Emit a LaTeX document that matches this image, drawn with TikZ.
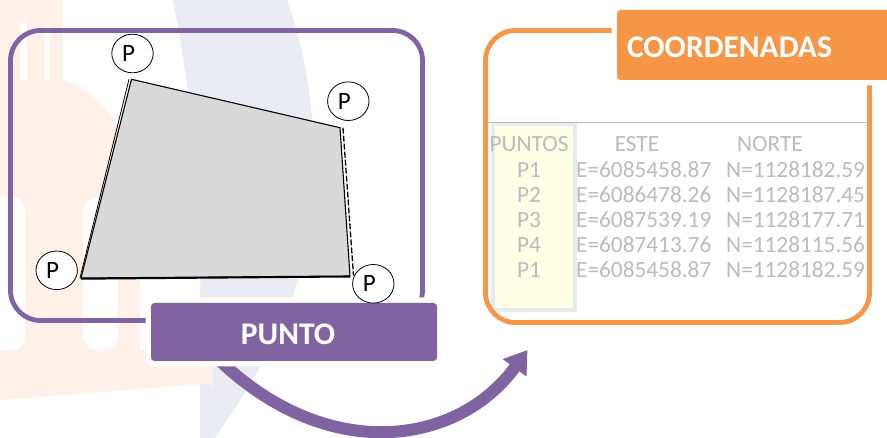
\documentclass[tikz,border=0pt]{standalone}
\usepackage{fontspec}
\setmainfont{Carlito}
\usetikzlibrary{arrows.meta,shapes.geometric}
\definecolor{purp}{HTML}{8064A2}
\definecolor{orng}{HTML}{F79646}
\definecolor{wmpeach}{HTML}{FEF1E9}
\definecolor{wmlav}{HTML}{EBEBF3}
\definecolor{quadgray}{HTML}{D9D9D9}
\definecolor{tabgray}{HTML}{BBBBBB}
\definecolor{colyellow}{HTML}{FFFFE5}
\definecolor{colborder}{HTML}{E6EAF1}
\begin{document}
\begin{tikzpicture}[x=1pt,y=-1pt,
  frame/.style={line width=4.8pt,rounded corners=30pt},
  titlebox/.style={preaction={draw=white,line width=11pt},rounded corners=3.5pt,inner sep=0pt,
     text=white,font=\fontsize{31.5}{36}\selectfont\bfseries,text height=26pt,text depth=0pt},
  pcirc/.style={ellipse,draw=black,line width=0.8pt,fill=white,minimum width=41.4pt,
     minimum height=38.6pt,inner sep=0pt,font=\fontsize{25}{30}\selectfont},
  tabtxt/.style={text=tabgray,inner sep=0pt,font=\fontsize{23.3}{28}\selectfont},
  quadline/.style={draw=black,line width=1.1pt,line join=miter},
  bigarrow/.style={draw=purp,line width=12pt,-{Triangle[width=28pt,length=22pt]}}]
\useasboundingbox (0,0) rectangle (887,438);
\clip (0,0) rectangle (887,438);
% watermark
\fill[wmlav] (173,0) .. controls (192,100) and (203,200) .. (200,300) -- (200,438) -- (215,438)
  .. controls (240,400) and (270,360) .. (295,290) .. controls (312,230) and (318,170) .. (313,127)
  .. controls (308,70) and (298,30) .. (287,0) -- cycle;
\fill[wmpeach] (0,0) rectangle (63,80);
\fill[wmpeach] (0,80) -- (63,80) .. controls (110,95) and (140,150) .. (140,210) -- (140,350)
  -- (205,350) arc[start angle=90,end angle=0,radius=8] -- (213,392) arc[start angle=0,end angle=-90,radius=8]
  -- (0,400) -- cycle;
\fill[white] (20,23) rectangle (27,80);
\fill[white] (45,23) rectangle (50,80);
\fill[white,rounded corners=12pt] (-20,197) -- (25,197) -- (25,350) -- (-20,350) -- cycle;
\fill[white,rounded corners=14pt] (83,198) -- (118,198) -- (118,350) -- (83,350) -- cycle;
% table
\fill[colyellow,draw=colborder,line width=4pt] (492.5,124) rectangle (575,310.5);
\draw[tabgray,line width=0.8pt] (483,122) -- (868,122);
\node[tabtxt,anchor=base] (hp) at (529,152) {PUNTOS};
\node[tabtxt,anchor=base] (he) at (637,152) {ESTE};
\node[tabtxt,anchor=base] (hn) at (770,152) {NORTE};
\foreach \i/\p/\e/\n in {1/P1/6085458.87/1128182.59, 2/P2/6086478.26/1128187.45,
   3/P3/6087539.19/1128177.71, 4/P4/6087413.76/1128115.56, 5/P1/6085458.87/1128182.59}{
  \node[tabtxt,anchor=base] (p\i) at (529,{152+25.2*\i}) {\p};
  \node[tabtxt,anchor=base west] (e\i) at (576,{152+25.2*\i}) {E=\e};
  \node[tabtxt,anchor=base west] (n\i) at (726,{152+25.2*\i}) {N=\n};
}
% frames
\draw[frame,purp] (10.5,30.5) rectangle (422.5,320.5);
\draw[frame,orng] (485.5,30.5) rectangle (869.5,322.5);
% quadrilateral
\coordinate (qa) at (131.5,79.3);
\coordinate (qb) at (340,127.7);
\coordinate (qc) at (350,276);
\coordinate (qd) at (81,278);
\fill[quadgray] (qa) -- (qb) -- (qc) -- (qd) -- cycle;
\draw[quadline] (qa) -- (qb) -- (qc) -- (qd) -- cycle;
\draw[black,line width=0.8pt] ([xshift=-2.5pt]qa) -- ([xshift=-1pt]qd);
\draw[black,line width=1.3pt,dash pattern=on 6pt off 2pt] ([xshift=3pt]qb) -- ([xshift=3.5pt,yshift=0.5pt]qc);
\draw[black,line width=1.8pt] ([yshift=-0.8pt]qd) -- ([yshift=-0.6pt]qc);
% arrow
\coordinate (a0) at (214,355);
\coordinate (a1) at (527.5,350);
\draw[bigarrow] (a0) .. controls (324,465) and (457,447) .. (a1);
% title boxes
\node[titlebox,fill=purp,minimum width=286pt,minimum height=58pt] (punto) at (294,332) {PUNTO\hspace*{12pt}};
\node[titlebox,fill=orng,minimum width=288pt,minimum height=70pt,text width=268pt,align=left] (coord) at (761,45) {COORDENADAS};
% point markers
\node[pcirc] (pt1) at (132.5,53.5) {\hspace*{-8pt}P};
\node[pcirc] (pt2) at (348.3,101.2) {\hspace*{-8pt}P};
\node[pcirc] (pt3) at (56.7,270.3) {\hspace*{-8pt}P};
\node[pcirc] (pt4) at (373.3,283.8) {\hspace*{-8pt}P};
\end{tikzpicture}
\end{document}
